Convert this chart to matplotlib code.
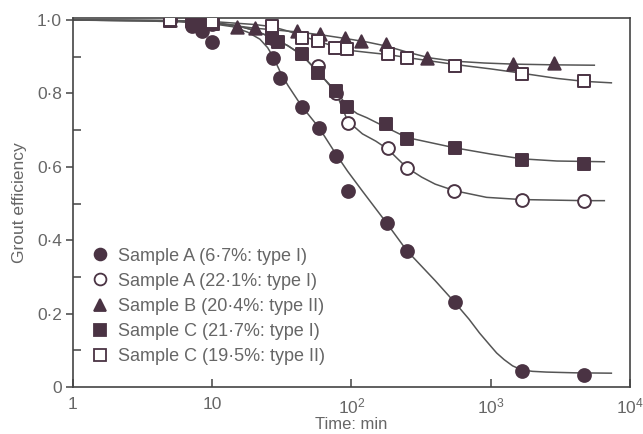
import numpy as np
import matplotlib
matplotlib.use("Agg")
import matplotlib.pyplot as plt
from matplotlib.lines import Line2D

plt.rcParams['font.family'] = ['Liberation Sans', 'DejaVu Sans']

t_a1 = [5, 7.2, 8.5, 10, 27.4, 30.7, 44, 58.5, 77.4, 94.4, 180, 250, 552, 1668, 4720]
y_a1 = [1.0, 0.984, 0.97, 0.94, 0.897, 0.842, 0.764, 0.707, 0.63, 0.533, 0.446, 0.37, 0.231, 0.044, 0.033]

t_a2 = [5, 10, 27, 57.5, 77, 94.4, 183, 251, 543, 1670, 4720]
y_a2 = [1.0, 0.99, 0.95, 0.875, 0.80, 0.72, 0.652, 0.598, 0.533, 0.51, 0.508]

t_b = [5, 15.1, 20.2, 40.5, 59.5, 90, 118, 178, 352, 1450, 2850]
y_b = [1.0, 0.98, 0.978, 0.97, 0.962, 0.95, 0.943, 0.935, 0.897, 0.88, 0.883]

t_c1 = [5, 7.2, 8.6, 10.1, 27, 29.8, 44, 57.5, 78, 93, 178, 250, 553, 1670, 4720]
y_c1 = [0.997, 0.997, 0.99, 0.99, 0.95, 0.94, 0.907, 0.856, 0.807, 0.764, 0.717, 0.676, 0.652, 0.62, 0.609]

t_c2 = [5, 10, 27, 44, 57.5, 76, 93, 183, 250, 553, 1670, 4720]
y_c2 = [1.0, 0.995, 0.984, 0.95, 0.943, 0.925, 0.92, 0.907, 0.897, 0.875, 0.854, 0.834]

# drawn trend curves
ct_a1 = [1, 3, 6, 10, 14, 18, 22, 25, 27.4, 30.7, 35, 44, 58.5, 77.4, 94, 120, 180, 250, 400,
         552, 700, 834, 1000, 1105, 1250, 1438, 1668, 2000, 2518, 4000, 7370]
cy_a1 = [1.0, 0.998, 0.995, 0.99, 0.982, 0.967, 0.948, 0.925, 0.90, 0.86, 0.822, 0.765, 0.707,
         0.635, 0.588, 0.534, 0.446, 0.372, 0.29, 0.231, 0.185, 0.147, 0.112, 0.093, 0.075,
         0.058, 0.047, 0.043, 0.041, 0.039, 0.038]

ct_a2 = [1, 5, 10, 15, 20, 27, 35, 44, 57.5, 78, 94, 120, 150, 183, 215, 250, 320, 400, 552,
         936, 1668, 4720, 6560]
cy_a2 = [1.0, 0.998, 0.993, 0.985, 0.972, 0.952, 0.93, 0.905, 0.86, 0.80, 0.725, 0.69, 0.67,
         0.648, 0.622, 0.598, 0.572, 0.553, 0.535, 0.517, 0.511, 0.508, 0.508]

ct_b = [1, 5, 10, 15, 20, 40, 60, 90, 130, 179, 250, 365, 550, 900, 1450, 2850, 5560]
cy_b = [1.0, 0.998, 0.992, 0.984, 0.978, 0.968, 0.96, 0.95, 0.94, 0.929, 0.913, 0.897, 0.888,
        0.883, 0.88, 0.878, 0.877]

ct_c1 = [1, 5, 10, 15, 20, 27, 35, 44, 57.5, 78, 94, 110, 129, 179, 250, 552, 1000, 1668,
         3000, 6560]
cy_c1 = [1.0, 0.998, 0.993, 0.985, 0.972, 0.952, 0.93, 0.905, 0.858, 0.805, 0.764, 0.745,
         0.734, 0.707, 0.68, 0.652, 0.635, 0.622, 0.616, 0.614]

ct_c2 = [1, 5, 10, 20, 27, 35, 44, 60, 94, 130, 183, 250, 552, 1000, 1614, 3000, 4720, 7370]
cy_c2 = [1.0, 0.999, 0.996, 0.988, 0.982, 0.97, 0.957, 0.94, 0.918, 0.912, 0.906, 0.898,
         0.879, 0.867, 0.856, 0.841, 0.833, 0.829]

labels = ['Sample A (6·7%: type I)', 'Sample A (22·1%: type I)', 'Sample B (20·4%: type II)',
          'Sample C (21·7%: type I)', 'Sample C (19·5%: type II)']

col = '#4a3343'
lc = '#555555'
fig = plt.figure(figsize=(6.43, 4.34), dpi=100)
ax = fig.add_axes([0.1135, 0.108, 0.866, 0.85])

series = [(t_a1, y_a1, 'o', col, col), (t_a2, y_a2, 'o', 'white', col),
          (t_b, y_b, '^', col, col), (t_c1, y_c1, 's', col, col),
          (t_c2, y_c2, 's', 'white', col)]
curves = [(ct_a1, cy_a1), (ct_a2, cy_a2), (ct_b, cy_b), (ct_c1, cy_c1), (ct_c2, cy_c2)]

for ct, cy in curves:
    ax.plot(ct, cy, color=lc, lw=1.1, zorder=2, solid_joinstyle='round')
for t, y, mk, fc, ec in series:
    ax.scatter(t, y, marker=mk, s=85 if mk != '^' else 80, facecolor=fc, edgecolor=ec,
               linewidths=1.4, zorder=3)

ax.set_xscale('log')
ax.set_xlim(1, 1e4)
ax.set_ylim(0, 1.005)
ax.set_xticks([1, 10, 100, 1000, 10000])
ax.set_xticklabels(['1', '10', r'$\mathregular{10^2}$', r'$\mathregular{10^3}$', r'$\mathregular{10^4}$'])
ax.xaxis.set_minor_locator(matplotlib.ticker.NullLocator())
ax.set_yticks([0, 0.2, 0.4, 0.6, 0.8, 1.0])
ax.set_yticklabels(['0', '0·2', '0·4', '0·6', '0·8', '1·0'])
ax.set_yticks([0.1, 0.3, 0.5, 0.7, 0.9], minor=True)
ax.tick_params(axis='x', direction='in', length=6, width=1.1, colors='#444444',
               labelcolor='#666666', labelsize=12.5, pad=7)
ax.tick_params(axis='y', which='major', direction='out', length=5, width=1.1,
               colors='#444444', labelcolor='#666666', labelsize=12.5, pad=3)
ax.tick_params(axis='y', which='minor', direction='in', length=6, width=1.1, colors='#444444')
for s in ax.spines.values():
    s.set_color('#444444')
    s.set_linewidth(1.2)

ax.set_xlabel('Time: min', fontsize=12, color='#666666', labelpad=0)
ax.set_ylabel('Grout efficiency', fontsize=12.5, color='#666666', labelpad=7)

handles = []
for t, y, mk, fc, ec in series:
    handles.append(Line2D([], [], ls='none', marker=mk, markersize=8.5 if mk != 's' else 8,
                          markerfacecolor=fc, markeredgecolor=ec, markeredgewidth=1.3))
leg = ax.legend(handles, labels, loc='lower left', bbox_to_anchor=(0.02, 0.04),
                frameon=False, fontsize=13, handletextpad=0.5, labelspacing=0.45,
                handlelength=1.0, borderaxespad=0)
for txt in leg.get_texts():
    txt.set_color('#666666')

fig.savefig('out.png', dpi=100)
